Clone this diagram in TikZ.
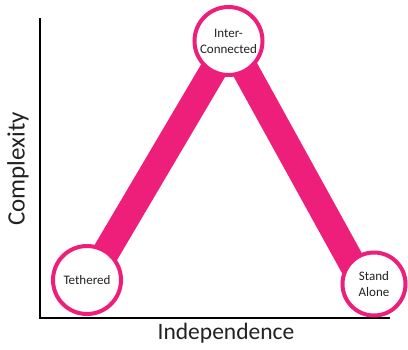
\documentclass[tikz,border=0pt]{standalone}
\usepackage{fontspec}
\setmainfont{Carlito}
\definecolor{hotpink}{HTML}{EE1F7A}
\definecolor{labelgray}{HTML}{222222}
\begin{document}
\begin{tikzpicture}[x=1pt,y=-1pt,
  band/.style={draw=hotpink,line width=27pt},
  stage/.style={circle,draw=hotpink,line width=4pt,fill=white,minimum size=#1,inner sep=0pt,
    font=\fontsize{13}{16}\selectfont,text=labelgray,align=center},
  axis/.style={draw=black,line width=2pt},
  axislabel/.style={text=labelgray}]
  \useasboundingbox (0,0) rectangle (408,349);
  % axes
  \coordinate (top) at (40,18);
  \coordinate (origin) at (40,318);
  \coordinate (right) at (390,318);
  \draw[axis] (top) -- (origin) -- (right);
  \node[axislabel,rotate=90,font=\fontsize{25}{28}\selectfont] (ylab) at (18,169) {Complexity};
  \node[axislabel,font=\fontsize{23.5}{26}\selectfont] (xlab) at (226,333) {Independence};
  % stage points
  \coordinate (pt) at (89,281);
  \coordinate (pi) at (230,42);
  \coordinate (ps) at (364,285);
  \draw[band] (pt) -- (pi);
  \draw[band] (pi) -- (ps);
  \node[stage=68pt] (inter) at (228.5,41) {Inter-\\Connected};
  \node[stage=68pt] (teth) at (87,280) {Tethered};
  \node[stage=63pt] (stand) at (374,284) {Stand\\Alone};
\end{tikzpicture}
\end{document}
